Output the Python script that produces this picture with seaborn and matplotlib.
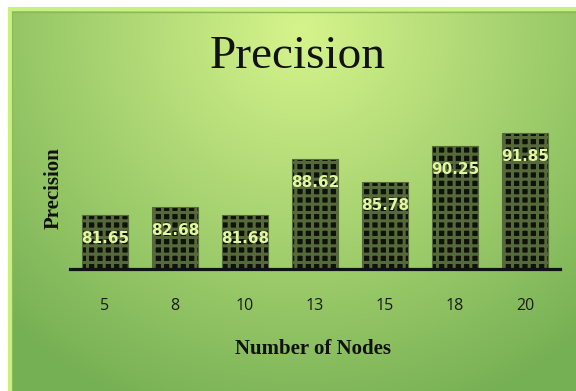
import numpy as np
import pandas as pd
import matplotlib
matplotlib.use("Agg")
import matplotlib.pyplot as plt
import seaborn as sns

# Precision per network size
nodes = ["5", "8", "10", "13", "15", "18", "20"]
precision = [81.65, 82.68, 81.68, 88.62, 85.78, 90.25, 91.85]

df = pd.DataFrame({"Number of Nodes": nodes, "Precision": precision})

sns.set_theme(style="white")
plt.rcParams["hatch.linewidth"] = 2.2

W, H = 576, 391
fig = plt.figure(figsize=(W / 100, H / 100), dpi=100)
fig.patch.set_facecolor("white")

# Framed backdrop with a soft radial green gradient
bg = fig.add_axes([0, 0, 1, 1])
bg.set_xlim(0, W)
bg.set_ylim(H, 0)
bg.axis("off")
yy, xx = np.mgrid[0:H, 0:W]
cx, cy, rx, ry = 295, 20, 430, 420
d = np.clip(np.sqrt(((xx - cx) / rx) ** 2 + ((yy - cy) / ry) ** 2), 0, 1)
c_in = np.array([214, 244, 140]) / 255
c_out = np.array([118, 176, 84]) / 255
img = c_in[None, None, :] * (1 - d[..., None]) + c_out[None, None, :] * d[..., None]
bg.add_patch(plt.Rectangle((8, 7), W - 8, H - 7, facecolor="#c9f17f", edgecolor="none"))
bg.imshow(img, extent=(12, W, H, 11), aspect="auto", zorder=2)
bg.plot([12, W], [11.5, 11.5], color="#8fb85a", lw=1, zorder=3)
bg.plot([12, 12], [11.5, H], color="#8fb85a", lw=0.8, zorder=3)

ax = fig.add_axes([70 / W, 122 / H, 490 / W, 161 / H])
ax.patch.set_alpha(0)
sns.barplot(data=df, x="Number of Nodes", y="Precision", ax=ax,
            color="#0e1208", width=0.65, saturation=1)
for p in ax.patches:
    p.set_hatch("++")
    p.set_edgecolor("#56693a")
    p.set_linewidth(0.8)

ax.set_ylim(75, 95)
ax.set_xlim(-0.5, 6.5)

for i, v in enumerate(precision):
    ax.annotate(f"{v:.2f}", xy=(i, v), xytext=(0, -16.5), textcoords="offset points",
                ha="center", va="center", fontsize=11, fontweight="bold",
                color="#e2f7a0", family="DejaVu Sans")

for s in ["top", "right", "left"]:
    ax.spines[s].set_visible(False)
ax.spines["bottom"].set_linewidth(2.3)
ax.spines["bottom"].set_color("#111111")
ax.set_yticks([])
ax.tick_params(axis="x", length=0, pad=21, labelsize=11.5, labelcolor="#1a1a1a")
for t in ax.get_xticklabels():
    t.set_family("Open Sans")

ax.set_xlabel("Number of Nodes", family="Liberation Serif", fontweight="bold",
              fontsize=15, color="#111111")
ax.set_ylabel("Precision", family="Liberation Serif", fontweight="bold",
              fontsize=15, color="#111111")
ax.yaxis.set_label_coords(-0.012, 0.5)
ax.xaxis.set_label_coords(243 / 490, -70 / 161)

fig.text(298 / W, 1 - 57 / H, "Precision", family="Liberation Serif",
         fontsize=34, ha="center", va="center", color="#111111")

fig.savefig("out.png", dpi=100)
